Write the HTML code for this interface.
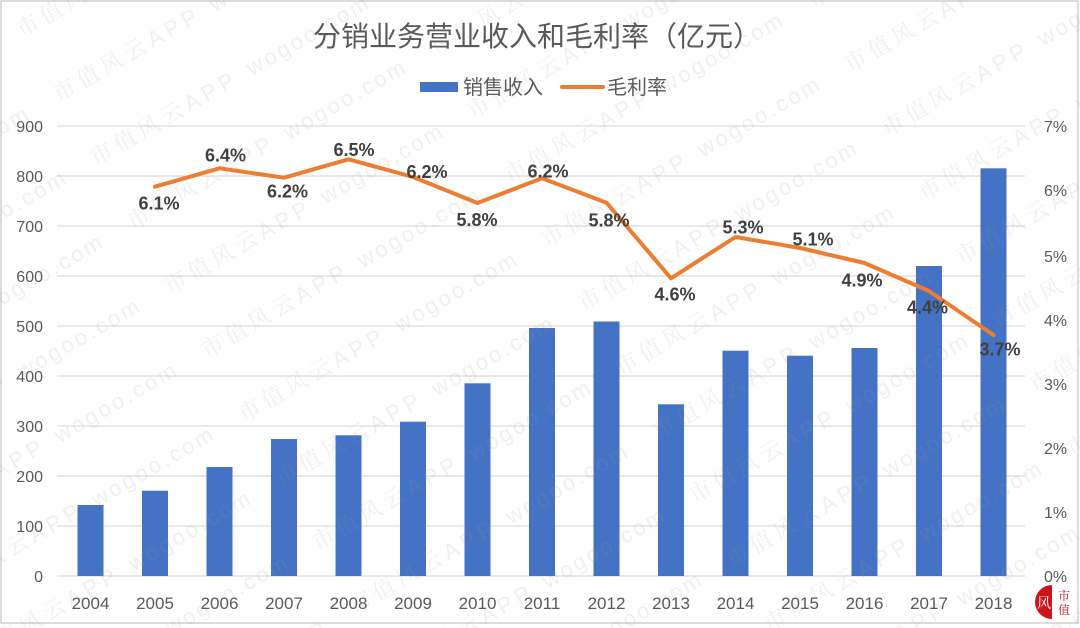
<!DOCTYPE html>
<html>
<head>
<meta charset="utf-8">
<style>
  html, body { margin:0; padding:0; background:#ffffff; }
  svg { display:block; }
</style>
</head>
<body>
<svg width="1080" height="628" viewBox="0 0 1080 628" xmlns="http://www.w3.org/2000/svg">
  <defs>
    <pattern id="wm" patternUnits="userSpaceOnUse" width="350" height="74" patternTransform="rotate(-30)">
      <text x="0" y="44" font-family="'Liberation Sans','Noto Serif CJK SC',sans-serif" font-size="22" fill="#9a9a9a" letter-spacing="5">市值风云APP</text>
      <text x="180" y="44" font-family="'Liberation Sans','Noto Sans CJK SC',sans-serif" font-size="22" fill="#9a9a9a" letter-spacing="3">wogoo.com</text>
    </pattern>
  </defs>
  <rect x="0" y="0" width="1080" height="628" fill="#ffffff"/>
  <rect x="1" y="1" width="1077" height="622" fill="none" stroke="#d0d0d0" stroke-width="1.5"/>

  <!-- Title -->
  <text x="537" y="46" text-anchor="middle" font-family="'Liberation Sans','Noto Sans CJK SC',sans-serif" font-size="28" fill="#595959">分销业务营业收入和毛利率（亿元）</text>

  <!-- Legend -->
  <rect x="420" y="82" width="38" height="10" fill="#4472C4"/>
  <text x="463" y="94" font-family="'Liberation Sans','Noto Sans CJK SC',sans-serif" font-size="20" fill="#595959">销售收入</text>
  <line x1="562" y1="87" x2="603" y2="87" stroke="#ED7D31" stroke-width="4" stroke-linecap="round"/>
  <text x="607" y="94" font-family="'Liberation Sans','Noto Sans CJK SC',sans-serif" font-size="20" fill="#595959">毛利率</text>

  <!-- Gridlines -->
  <g stroke="#d9d9d9" stroke-width="1.3">
    <line x1="57" y1="126" x2="1025" y2="126"/>
    <line x1="57" y1="176" x2="1025" y2="176"/>
    <line x1="57" y1="226" x2="1025" y2="226"/>
    <line x1="57" y1="276" x2="1025" y2="276"/>
    <line x1="57" y1="326" x2="1025" y2="326"/>
    <line x1="57" y1="376" x2="1025" y2="376"/>
    <line x1="57" y1="426" x2="1025" y2="426"/>
    <line x1="57" y1="476" x2="1025" y2="476"/>
    <line x1="57" y1="526" x2="1025" y2="526"/>
    <line x1="57" y1="576" x2="1025" y2="576"/>
  </g>

  <!-- Left axis labels -->
  <g font-family="'Liberation Sans',sans-serif" font-size="16" fill="#595959" text-anchor="end">
    <text x="43" y="132">900</text>
    <text x="43" y="182">800</text>
    <text x="43" y="232">700</text>
    <text x="43" y="282">600</text>
    <text x="43" y="332">500</text>
    <text x="43" y="382">400</text>
    <text x="43" y="432">300</text>
    <text x="43" y="482">200</text>
    <text x="43" y="532">100</text>
    <text x="43" y="582">0</text>
  </g>

  <!-- Right axis labels -->
  <g font-family="'Liberation Sans',sans-serif" font-size="16" fill="#595959" text-anchor="start">
    <text x="1044" y="132">7%</text>
    <text x="1044" y="196">6%</text>
    <text x="1044" y="262">5%</text>
    <text x="1044" y="326">4%</text>
    <text x="1044" y="390">3%</text>
    <text x="1044" y="454">2%</text>
    <text x="1044" y="518">1%</text>
    <text x="1044" y="582">0%</text>
  </g>

  <!-- Bars -->
  <g fill="#4472C4">
    <rect x="77.5"  y="505"   width="26" height="71"/>
    <rect x="142"   y="490.7" width="26" height="85.3"/>
    <rect x="206.5" y="467"   width="26" height="109"/>
    <rect x="271"   y="439"   width="26" height="137"/>
    <rect x="335.5" y="435.3" width="26" height="140.7"/>
    <rect x="400"   y="421.7" width="26" height="154.3"/>
    <rect x="464.5" y="383.3" width="26" height="192.7"/>
    <rect x="529"   y="328"   width="26" height="248"/>
    <rect x="593.5" y="321.5" width="26" height="254.5"/>
    <rect x="658"   y="404.3" width="26" height="171.7"/>
    <rect x="722.5" y="350.7" width="26" height="225.3"/>
    <rect x="787"   y="355.7" width="26" height="220.3"/>
    <rect x="851.5" y="348"   width="26" height="228"/>
    <rect x="916"   y="266"   width="26" height="310"/>
    <rect x="980.5" y="168.3" width="26" height="407.7"/>
  </g>

  <!-- X axis labels -->
  <g font-family="'Liberation Sans',sans-serif" font-size="17" fill="#595959" text-anchor="middle">
    <text x="90.5" y="609">2004</text>
    <text x="155" y="609">2005</text>
    <text x="219.5" y="609">2006</text>
    <text x="284" y="609">2007</text>
    <text x="348.5" y="609">2008</text>
    <text x="413" y="609">2009</text>
    <text x="477.5" y="609">2010</text>
    <text x="542" y="609">2011</text>
    <text x="606.5" y="609">2012</text>
    <text x="671" y="609">2013</text>
    <text x="735.5" y="609">2014</text>
    <text x="800" y="609">2015</text>
    <text x="864.5" y="609">2016</text>
    <text x="929" y="609">2017</text>
    <text x="993.5" y="609">2018</text>
  </g>

  <!-- Line -->
  <polyline fill="none" stroke="#ED7D31" stroke-width="4" stroke-linejoin="round" stroke-linecap="round"
    points="155,186.7 219.5,168.3 284,177.7 348.5,159.3 413,177 477.5,203 542,178.3 606.5,202.7 671,278.3 735.5,237 800,248 864.5,263 929,291 993.5,335"/>

  <!-- Data labels -->
  <g font-family="'Liberation Sans',sans-serif" font-size="18" font-weight="bold" fill="#404040" text-anchor="middle">
    <text x="159" y="209.5">6.1%</text>
    <text x="225.5" y="161.5">6.4%</text>
    <text x="287.5" y="197.5">6.2%</text>
    <text x="354" y="156">6.5%</text>
    <text x="427" y="178">6.2%</text>
    <text x="477" y="226">5.8%</text>
    <text x="548" y="177.5">6.2%</text>
    <text x="609" y="226.5">5.8%</text>
    <text x="675" y="300.5">4.6%</text>
    <text x="743" y="233.5">5.3%</text>
    <text x="813" y="245.5">5.1%</text>
    <text x="862" y="286.5">4.9%</text>
    <text x="927.5" y="313.5">4.4%</text>
    <text x="1000" y="355.5">3.7%</text>
  </g>

  <!-- Watermark overlay -->
  <rect x="0" y="0" width="1080" height="628" fill="url(#wm)" opacity="0.15"/>

  <!-- Logo bottom right -->
  <path d="M1052,585 A17,17 0 0,0 1052,619 Z" fill="#c8161d"/>
  <text x="1044" y="608" text-anchor="middle" font-family="'Liberation Serif','Noto Serif CJK SC',serif" font-size="14" fill="#ffffff">风</text>
  <text x="1064" y="600" text-anchor="middle" font-family="'Liberation Serif','Noto Serif CJK SC',serif" font-size="12" fill="#c8161d">市</text>
  <text x="1064" y="614" text-anchor="middle" font-family="'Liberation Serif','Noto Serif CJK SC',serif" font-size="12" fill="#c8161d">值</text>
</svg>
</body>
</html>
